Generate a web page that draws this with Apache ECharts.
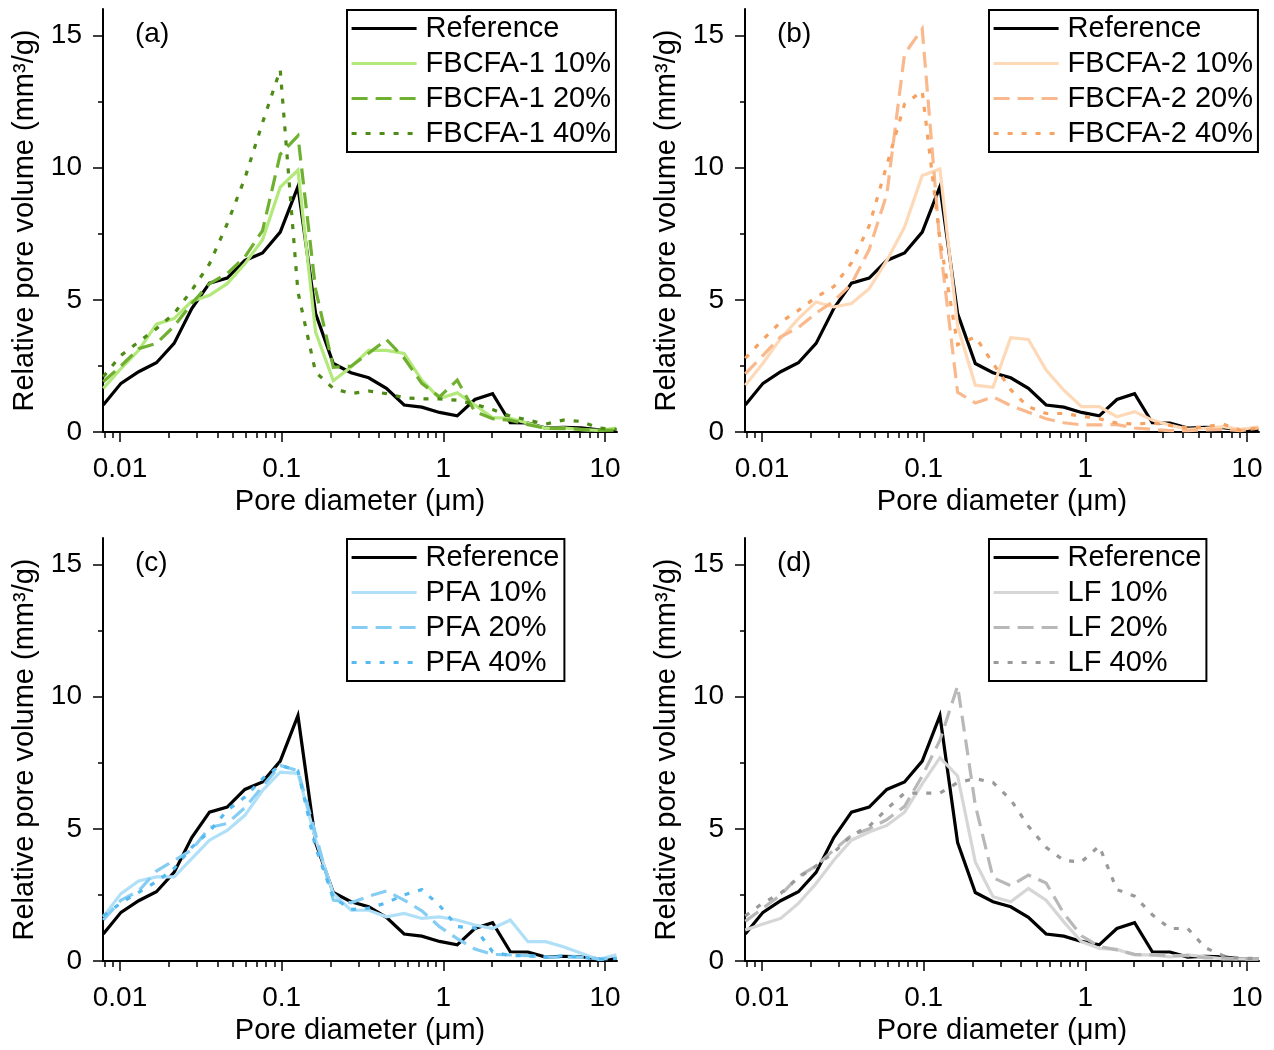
<!DOCTYPE html>
<html><head><meta charset="utf-8">
<script src="https://cdn.jsdelivr.net/npm/echarts@6/dist/echarts.min.js"></script>
<style>html,body{margin:0;padding:0;background:#fff}#c{width:1274px;height:1050px}</style>
</head><body><div id="c"></div>
<script>
// Pore diameters (µm), common grid for all series
const diameters = [0.00788,0.01014,0.01305,0.0168,0.02161,0.0278,0.03577,0.04602,0.05922,0.07617,0.098,0.1261,0.1622,0.2087,0.2686,0.3455,0.4446,0.5721,0.7361,0.9471,1.219,1.568,2.018,2.596,3.34,4.298,5.53,7.114,9.155,11.78];
const xTickValues = [0.01,0.1,1,10];
const xMinorTickValues = [0.008,0.009,0.02,0.03,0.04,0.05,0.06,0.07,0.08,0.09,0.2,0.3,0.4,0.5,0.6,0.7,0.8,0.9,2,3,4,5,6,7,8,9];
const yTickValues = [0,5,10,15];
const yMinorTickValues = [2.5,7.5,12.5];

const reference  = [1.02,1.84,2.28,2.62,3.35,4.67,5.63,5.82,6.49,6.77,7.56,9.28,4.48,2.59,2.24,2.05,1.65,1.02,0.94,0.74,0.61,1.23,1.45,0.35,0.34,0.15,0.18,0.16,0.08,0.08];
const fbcfa1_10  = [1.65,2.40,3.09,4.08,4.29,4.95,5.17,5.61,6.36,7.27,9.26,9.9,3.78,1.94,2.46,3.09,3.09,2.97,1.96,1.27,1.48,1.02,0.54,0.52,0.33,0.14,0.16,0.09,0.06,0.15];
const fbcfa1_20  = [1.9,2.5,3.15,3.35,4.0,4.86,5.61,5.99,6.62,7.62,10.5,11.2,5.4,2.45,2.49,2.98,3.5,2.8,1.84,1.33,1.96,0.77,0.5,0.45,0.28,0.14,0.13,0.1,0.06,0.07];
const fbcfa1_40  = [2.09,2.9,3.41,3.91,4.48,5.36,6.36,7.87,9.6,11.7,13.7,5.3,2.26,1.65,1.45,1.55,1.45,1.3,1.25,1.25,1.2,1.05,0.85,0.6,0.45,0.3,0.45,0.4,0.15,0.1];
const fbcfa2_10  = [1.77,2.6,3.54,4.29,4.92,4.73,4.86,5.42,6.49,7.75,9.7,9.95,4.0,1.77,1.69,3.57,3.5,2.34,1.58,0.96,0.96,0.58,0.77,0.45,0.26,0.1,0.14,0.2,0.1,0.2];
const fbcfa2_20  = [2.2,2.9,3.6,3.95,4.5,4.95,5.6,6.9,9.0,14.3,15.25,7.1,1.5,1.1,1.33,1.0,0.75,0.5,0.35,0.27,0.27,0.28,0.15,0.1,0.05,0.05,0.08,0.1,0.05,0.15];
const fbcfa2_40  = [2.79,3.5,4.16,4.6,5.1,5.5,6.4,7.8,10.1,12.4,12.9,7.3,3.3,3.6,2.6,1.6,0.95,0.7,0.7,0.6,0.5,0.34,0.3,0.34,0.25,0.15,0.2,0.3,0.06,0.15];
const pfa_10     = [1.67,2.55,3.03,3.18,3.18,3.87,4.57,4.94,5.51,6.45,7.14,7.1,4.6,2.55,1.92,1.92,1.67,1.8,1.61,1.67,1.55,1.36,1.23,1.55,0.73,0.73,0.54,0.29,0.06,0.23];
const pfa_20     = [1.55,2.3,2.65,3.4,3.8,4.2,5.05,5.2,5.8,6.6,7.4,7.2,4.8,2.3,2.2,2.45,2.65,2.3,1.9,1.3,0.85,0.45,0.25,0.23,0.2,0.15,0.15,0.15,0.08,0.1];
const pfa_40     = [1.7,2.2,2.6,3.0,3.5,4.3,4.9,5.7,6.2,6.9,7.4,7.2,4.3,2.4,1.95,2.0,2.2,2.5,2.7,2.1,1.3,1.25,0.35,0.2,0.2,0.15,0.2,0.15,0.05,0.1];
const lf_10      = [1.17,1.4,1.61,2.18,2.93,3.81,4.57,4.88,5.13,5.63,6.7,7.69,7.0,3.75,2.43,2.24,2.74,2.3,1.48,0.73,0.48,0.44,0.23,0.23,0.16,0.23,0.16,0.08,0.08,0.08];
const lf_20      = [1.5,2.0,2.5,3.2,3.6,4.2,4.75,5.0,5.35,5.85,7.0,8.35,10.4,5.9,3.15,2.85,3.25,2.95,1.8,0.95,0.55,0.42,0.25,0.23,0.2,0.2,0.12,0.12,0.07,0.07];
const lf_40      = [1.7,2.2,2.56,3.15,3.6,4.1,4.75,5.1,5.75,6.35,6.35,6.35,6.75,6.9,6.75,6.1,5.1,4.3,3.8,3.75,4.35,2.7,2.45,1.75,1.23,1.23,0.5,0.2,0.1,0.1];

const panels = [
  {tag:'(a)', names:['Reference','FBCFA-1 10%','FBCFA-1 20%','FBCFA-1 40%'], vals:[reference,fbcfa1_10,fbcfa1_20,fbcfa1_40], colors:['#000000','#b3e87b','#6fb030','#4f8c17']},
  {tag:'(b)', names:['Reference','FBCFA-2 10%','FBCFA-2 20%','FBCFA-2 40%'], vals:[reference,fbcfa2_10,fbcfa2_20,fbcfa2_40], colors:['#000000','#fdd9b8','#f9b98c','#f5a263']},
  {tag:'(c)', names:['Reference','PFA 10%','PFA 20%','PFA 40%'], vals:[reference,pfa_10,pfa_20,pfa_40], colors:['#000000','#b0e0f8','#85cdf3','#55baf0']},
  {tag:'(d)', names:['Reference','LF 10%','LF 20%','LF 40%'], vals:[reference,lf_10,lf_20,lf_40], colors:['#000000','#d6d6d6','#b8b8b8','#9a9a9a']}
];
const dashTypes = ['solid','solid',[16,8],[5,9]];

const FONT = 'Liberation Sans, Arial, sans-serif';
const gridPos = [[103,9],[745,9],[103,538],[745,538]];
const W = 514, H = 423;
const XMIN = 0.00785, XMAX = 11.87;

const grids=[], xAxes=[], yAxes=[], series=[], legends=[], titles=[];
const fmt = v => String(+Number(v).toPrecision(2));

panels.forEach((p,i)=>{
  const [gl,gt] = gridPos[i];
  grids.push({left:gl, top:gt, width:W, height:H, show:false});
  xAxes.push({type:'log', logBase:10, gridIndex:i, position:'bottom', min:XMIN, max:XMAX,
    axisLine:{show:true,onZero:false,lineStyle:{color:'#000',width:2}},
    axisTick:{show:true,inside:false,length:10,lineStyle:{color:'#000',width:1.5},customValues:xTickValues},
    axisLabel:{show:true,customValues:xTickValues,formatter:fmt,fontSize:28,color:'#000',margin:23,fontFamily:FONT},
    splitLine:{show:false}, minorTick:{show:false},
    name:'Pore diameter (μm)', nameLocation:'middle', nameGap:55,
    nameTextStyle:{fontSize:29,color:'#000',fontFamily:FONT}});
  xAxes.push({type:'log', logBase:10, gridIndex:i, position:'bottom', min:XMIN, max:XMAX,
    axisLine:{show:false}, axisLabel:{show:false}, splitLine:{show:false},
    axisTick:{show:true,inside:false,length:6,lineStyle:{color:'#000',width:1.5},customValues:xMinorTickValues}});
  yAxes.push({type:'value', gridIndex:i, position:'left', min:0, max:16,
    axisLine:{show:true,onZero:false,lineStyle:{color:'#000',width:2}},
    axisTick:{show:true,inside:false,length:10,lineStyle:{color:'#000',width:1.5},customValues:yTickValues},
    axisLabel:{show:true,customValues:yTickValues,fontSize:28,color:'#000',margin:21,fontFamily:FONT},
    splitLine:{show:false},
    name:'Relative pore volume (mm³/g)', nameLocation:'middle', nameGap:64, nameRotate:90,
    nameTextStyle:{fontSize:29,color:'#000',fontFamily:FONT}});
  yAxes.push({type:'value', gridIndex:i, position:'left', min:0, max:16,
    axisLine:{show:false}, axisLabel:{show:false}, splitLine:{show:false},
    axisTick:{show:true,inside:false,length:5,lineStyle:{color:'#000',width:1.5},customValues:yMinorTickValues}});
  p.names.forEach((nm,k)=>{
    series.push({type:'line', name:nm, xAxisIndex:2*i, yAxisIndex:2*i,
      data: diameters.map((d,j)=>[d, p.vals[k][j]]),
      symbol:'none', showSymbol:false, color:p.colors[k], animation:false, silent:true,
      lineStyle:{color:p.colors[k], width:3.2, type:dashTypes[k], cap:'butt', join:'miter'},
      z: 2});
  });
  legends.push({orient:'vertical', left: gl+244, top: gt+1, data:p.names.slice(),
    itemWidth:65, itemHeight:12, itemGap:6, selectedMode:false,
    itemStyle:{opacity:0, borderWidth:0},
    lineStyle:{width:3.2},
    textStyle:{fontSize:29,color:'#000',fontFamily:FONT,padding:[0,0,0,4]},
    borderColor:'#000', borderWidth:2, borderRadius:0, padding:[4,5,4,3], backgroundColor:'#fff'});
  titles.push({text:p.tag, left: gl+27, top: gt+6, textStyle:{fontSize:28,fontWeight:'normal',color:'#000',fontFamily:FONT}});
});

const chart = echarts.init(document.getElementById('c'), null, {renderer:'canvas'});
chart.setOption({backgroundColor:'#fff', animation:false, title:titles, grid:grids, xAxis:xAxes, yAxis:yAxes, legend:legends, series:series});
</script></body></html>
